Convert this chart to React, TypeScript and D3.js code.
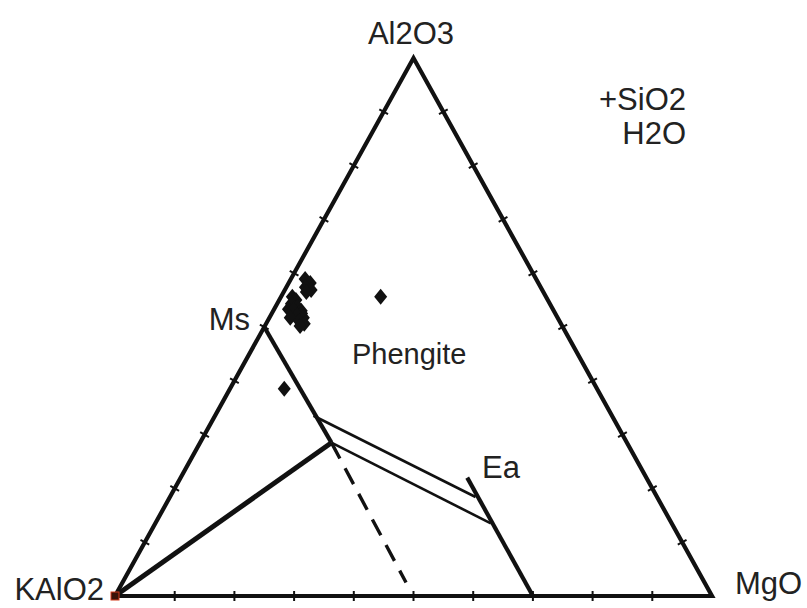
import React from "react";
import * as d3 from "d3";

// Ternary KAlO2 – Al2O3 – MgO (projected from SiO2 and H2O)
// Every composition is stored as [Al2O3, MgO] mole fractions; KAlO2 = 1 - Al2O3 - MgO.

const vertexNames = ["KAlO2", "Al2O3", "MgO"];
const extraComponents = ["+SiO2", "H2O"];
const tickFractions = [0.1, 0.2, 0.3, 0.4, 0.5, 0.6, 0.7, 0.8, 0.9];

// Mineral end-members and tie-line nodes
const muscovite: [number, number] = [0.5, 0.0];
const phengiteNodeUpper: [number, number] = [0.335, 0.165];
const phengiteNodeLower: [number, number] = [0.285, 0.22];
const celadoniteDirection: [number, number] = [0.025, 0.475];
const eastoniteTop: [number, number] = [0.22, 0.48];
const eastoniteBase: [number, number] = [0.0, 0.7];
const eastoniteUpperTie: [number, number] = [0.184, 0.512];
const eastoniteLowerTie: [number, number] = [0.135, 0.562];
const kalsilite: [number, number] = [0.0, 0.0];

// Analysed white micas
const micaAnalyses: [number, number][] = [
  [0.589, 0.024],
  [0.582, 0.036],
  [0.574, 0.032],
  [0.569, 0.044],
  [0.565, 0.038],
  [0.556, 0.019],
  [0.55, 0.028],
  [0.543, 0.024],
  [0.537, 0.037],
  [0.533, 0.024],
  [0.532, 0.033],
  [0.53, 0.047],
  [0.525, 0.05],
  [0.522, 0.044],
  [0.517, 0.035],
  [0.517, 0.057],
  [0.511, 0.053],
  [0.506, 0.064],
  [0.502, 0.059],
  [0.556, 0.167],
  [0.385, 0.091],
];

const width = 807;
const height = 608;

// Horizontal: MgO + Al2O3/2 ; vertical: Al2O3
const xScale = d3.scaleLinear().domain([0, 1]).range([115, 712]);
const yScale = d3.scaleLinear().domain([0, 1]).range([596, 58]);

const project = ([al, mg]: [number, number]): [number, number] => [
  xScale(mg + al / 2),
  yScale(al),
];

const FONT = "'Liberation Sans', Arial, Helvetica, sans-serif";
const INK = "#111";

function Seg({ a, b, w, dash }: { a: [number, number]; b: [number, number]; w: number; dash?: string }) {
  const [x1, y1] = project(a);
  const [x2, y2] = project(b);
  return (
    <line
      x1={x1}
      y1={y1}
      x2={x2}
      y2={y2}
      stroke={INK}
      strokeWidth={w}
      strokeDasharray={dash}
      strokeLinecap="butt"
    />
  );
}

export default function App() {
  const K: [number, number] = [0, 0];
  const A: [number, number] = [1, 0];
  const M: [number, number] = [0, 1];
  const corners = [K, A, M].map(project);
  const outline = d3.line()(corners.concat([corners[0]])) + "";

  // tick marks along each side, perpendicular to it
  const edges: [[number, number], [number, number]][] = [
    [K, A],
    [A, M],
    [K, M],
  ];
  const ticks: { x1: number; y1: number; x2: number; y2: number }[] = [];
  edges.forEach(([p, q]) => {
    const [px, py] = project(p);
    const [qx, qy] = project(q);
    const len = Math.hypot(qx - px, qy - py);
    const nx = -(qy - py) / len;
    const ny = (qx - px) / len;
    tickFractions.forEach((t) => {
      const cx = px + (qx - px) * t;
      const cy = py + (qy - py) * t;
      ticks.push({ x1: cx - nx * 5, y1: cy - ny * 5, x2: cx + nx * 5, y2: cy + ny * 5 });
    });
  });

  const diamond = (cx: number, cy: number) =>
    `M${cx},${cy - 8}L${cx + 6.5},${cy}L${cx},${cy + 8}L${cx - 6.5},${cy}Z`;

  const [kx, ky] = project(kalsilite);

  return (
    <svg
      width={width}
      height={height}
      style={{ position: "absolute", left: 0, top: 0, display: "block" }}
    >
      <rect width={width} height={height} fill="#fff" />
      <path d={outline} fill="none" stroke={INK} strokeWidth={4.2} strokeLinejoin="miter" />
      {ticks.map((t, i) => (
        <line key={i} {...t} stroke={INK} strokeWidth={2} />
      ))}

      {/* tie lines */}
      <Seg a={muscovite} b={phengiteNodeLower} w={4.2} />
      <Seg a={phengiteNodeLower} b={celadoniteDirection} w={3.4} dash="18 11" />
      <Seg a={kalsilite} b={phengiteNodeLower} w={5} />
      <Seg a={phengiteNodeUpper} b={eastoniteUpperTie} w={2.6} />
      <Seg a={phengiteNodeLower} b={eastoniteLowerTie} w={2.6} />
      <Seg a={eastoniteTop} b={eastoniteBase} w={4.2} />

      {/* analyses */}
      {micaAnalyses.map((d, i) => {
        const [x, y] = project(d);
        return <path key={i} d={diamond(x, y)} fill={INK} />;
      })}

      <rect x={kx - 4} y={ky - 4} width={8} height={8} fill="#3a1208" stroke="#d23a1a" strokeWidth={1} />

      <g fontFamily={FONT} fontSize={31} fill="#222">
        <text x={411} y={44} textAnchor="middle">{vertexNames[1]}</text>
        <text x={104} y={600} textAnchor="end">{vertexNames[0]}</text>
        <text x={735} y={594}>{vertexNames[2]}</text>
        <text x={686} y={110} textAnchor="end">{extraComponents[0]}</text>
        <text x={686} y={144} textAnchor="end">{extraComponents[1]}</text>
        <text x={250} y={330} textAnchor="end">Ms</text>
        <text x={352} y={364} fontSize={29}>Phengite</text>
        <text x={482} y={478}>Ea</text>
      </g>
    </svg>
  );
}
